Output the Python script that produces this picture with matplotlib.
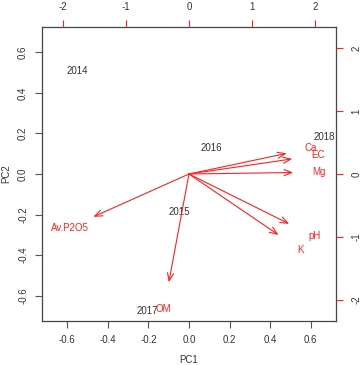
import matplotlib
matplotlib.use("Agg")
import matplotlib.pyplot as plt

plt.rcParams['font.family'] = ['Liberation Sans', 'DejaVu Sans']
plt.rcParams['axes.unicode_minus'] = False

# sample scores (PC1, PC2)
years = ['2014', '2015', '2016', '2017', '2018']
pc1 = [-0.549, -0.046, 0.110, -0.207, 0.669]
pc2 = [0.509, -0.187, 0.128, -0.675, 0.185]

# variable loadings (label positions, arrows drawn to 0.8x)
variables = ['Ca', 'EC', 'Mg', 'pH', 'K', 'Av.P2O5', 'OM']
load1 = [1.94, 2.05, 2.07, 1.99, 1.78, -1.90, -0.40]
load2 = [0.41, 0.30, 0.03, -0.99, -1.21, -0.85, -2.15]

lim1 = 0.725
lim2 = 2.336
fs = 7
dark = '#333333'
red = '#ff2020'

fig = plt.figure(figsize=(3.62, 3.65), dpi=100)
pos = [0.116, 0.1205, 0.812, 0.8055]
ax = fig.add_axes(pos)
ax.set_xlim(-lim1, lim1)
ax.set_ylim(-lim1, lim1)
ax.set_xticks([-0.6, -0.4, -0.2, 0.0, 0.2, 0.4, 0.6])
ax.set_yticks([-0.6, -0.4, -0.2, 0.0, 0.2, 0.4, 0.6])
ax.set_xticklabels(['-0.6', '-0.4', '-0.2', '0.0', '0.2', '0.4', '0.6'])
ax.set_yticklabels(['-0.6', '-0.4', '-0.2', '0.0', '0.2', '0.4', '0.6'],
                   rotation=90, va='center')
ax.tick_params(direction='out', length=5, width=0.8, color='#555555',
               labelsize=fs, labelcolor=dark, pad=5)
for s in ax.spines.values():
    s.set_color('#444444')
    s.set_linewidth(0.9)
ax.set_xlabel('PC1', fontsize=fs, color=dark, labelpad=7)
ax.set_ylabel('PC2', fontsize=fs, color=dark, labelpad=5)

for t, x, y in zip(years, pc1, pc2):
    ax.text(x, y, t, ha='center', va='center', fontsize=fs, color=dark)

ax2 = fig.add_axes(pos, frameon=False)
ax2.set_xlim(-lim2, lim2)
ax2.set_ylim(-lim2, lim2)
ax2.xaxis.tick_top()
ax2.yaxis.tick_right()
ax2.set_xticks([-2, -1, 0, 1, 2])
ax2.set_yticks([-2, -1, 0, 1, 2])
ax2.set_yticklabels(['-2', '-1', '0', '1', '2'], rotation=90, va='center')
ax2.tick_params(direction='out', length=5, width=0.8, color=red,
                labelsize=fs, labelcolor=dark, pad=6)
ax2.patch.set_alpha(0)

for t, x, y in zip(variables, load1, load2):
    ax2.annotate('', xy=(0.8 * x, 0.8 * y), xytext=(0, 0),
                 arrowprops=dict(arrowstyle='->,head_length=0.55,head_width=0.22',
                                 color=red, lw=0.8, shrinkA=0, shrinkB=0))
    ax2.text(x, y, t, ha='center', va='center', fontsize=fs, color=red)

fig.savefig('out.png', dpi=100)
